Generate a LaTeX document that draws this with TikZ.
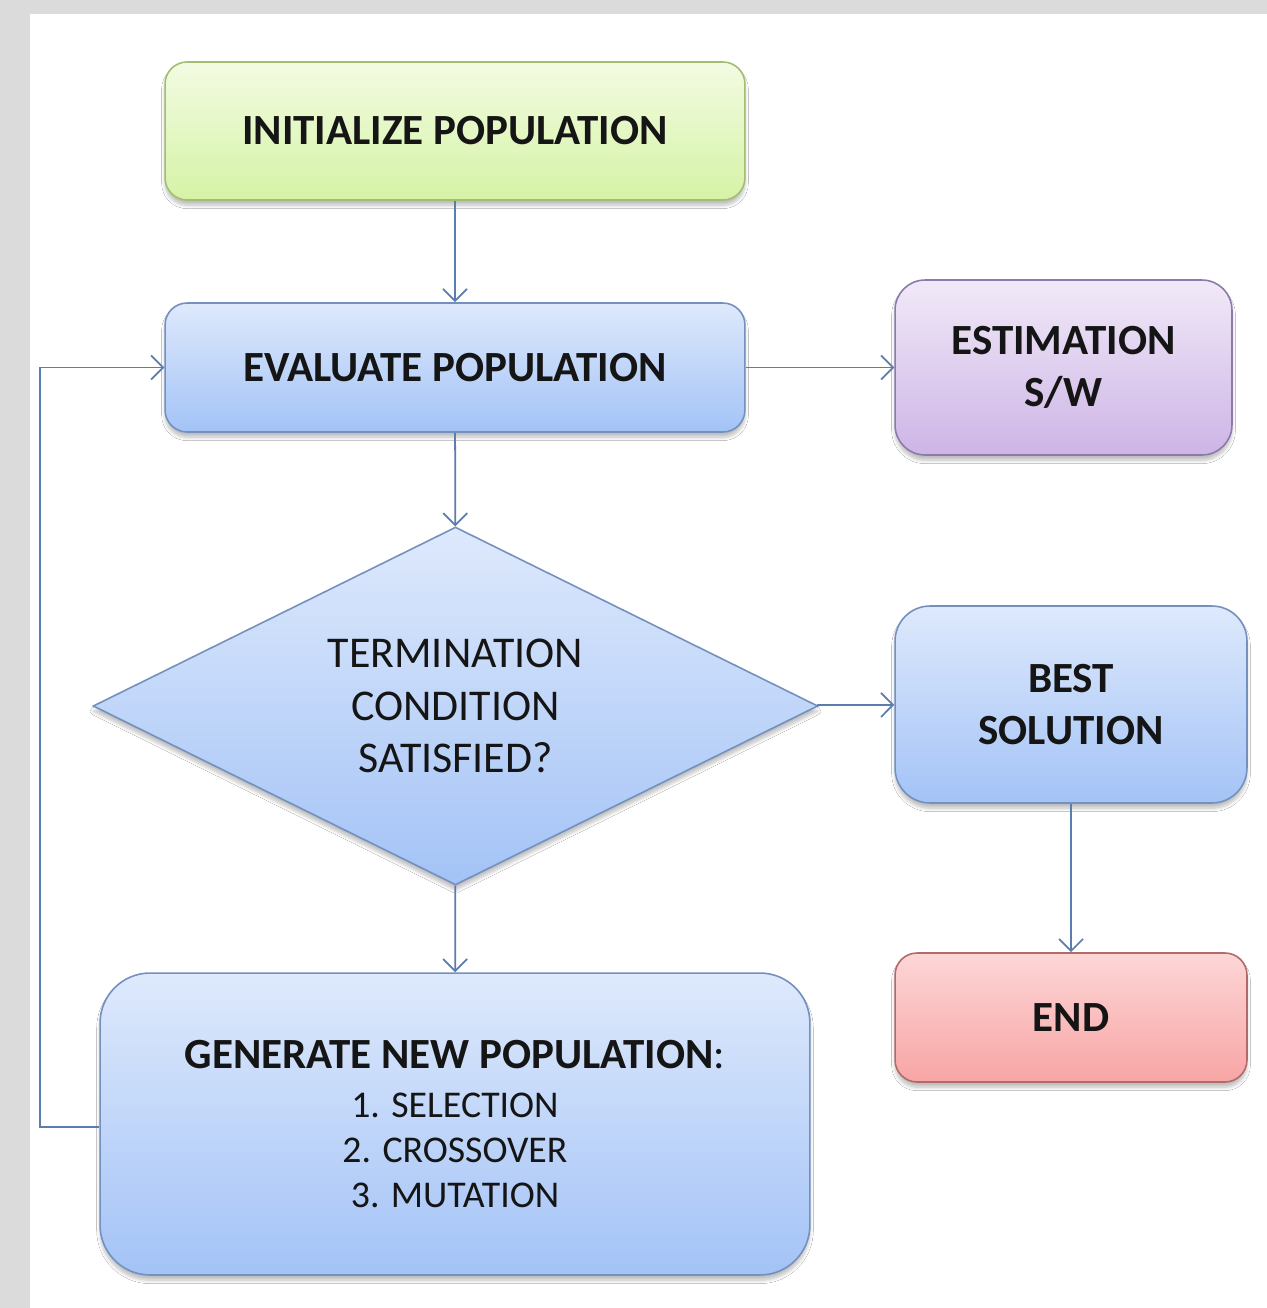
\documentclass[tikz,border=0pt]{standalone}
\usepackage{fontspec}
\setmainfont{Carlito}
\usetikzlibrary{arrows.meta,shapes.geometric,shadows.blur}
\definecolor{lineblue}{HTML}{5A7DAE}
\definecolor{gtop}{HTML}{F3FBE2}
\definecolor{gbot}{HTML}{D5F3A6}
\definecolor{gbord}{HTML}{A3BD73}
\definecolor{btop}{HTML}{DEE9FC}
\definecolor{bbot}{HTML}{A3C3F6}
\definecolor{bbord}{HTML}{7390BE}
\definecolor{ptop}{HTML}{F1E9F8}
\definecolor{pbot}{HTML}{CDB5E6}
\definecolor{pbord}{HTML}{8C7BA8}
\definecolor{rtop}{HTML}{FDD6D6}
\definecolor{rbot}{HTML}{F8A5A5}
\definecolor{rbord}{HTML}{B06A6A}
\definecolor{txt}{HTML}{151515}
\newcommand{\itemfont}{\mdseries\fontsize{21.5}{25.5}\selectfont}
\begin{document}
\begin{tikzpicture}[x=0.02cm,y=-0.02cm,
  boxbase/.style={rectangle, draw, line width=0.9pt, align=center, text=txt,
    font=\fontsize{24.5}{29.5}\selectfont\bfseries,
    blur shadow={shadow xshift=0pt, shadow yshift=-3pt, shadow blur steps=6, shadow opacity=25}},
  greenbox/.style={boxbase, draw=gbord, top color=gtop, bottom color=gbot},
  bluebox/.style={boxbase, draw=bbord, top color=btop, bottom color=bbot},
  purplebox/.style={boxbase, draw=pbord, top color=ptop, bottom color=pbot},
  redbox/.style={boxbase, draw=rbord, top color=rtop, bottom color=rbot},
  decision/.style={diamond, draw=bbord, line width=0.9pt, top color=btop, bottom color=bbot,
    inner sep=0pt, shape aspect=2.025,
    blur shadow={shadow xshift=0pt, shadow yshift=-3pt, shadow blur steps=6, shadow opacity=25}},
  decisiontext/.style={align=center, text=txt, inner sep=0pt, font=\fontsize{25}{30}\selectfont},
  arr/.style={draw=lineblue, line width=1pt, -{Straight Barb[length=2.4mm,width=4.8mm]}}
]
\useasboundingbox (0,0) rectangle (1267,1308);
\fill[gray!28] (0,0) rectangle (1267,1308);
\fill[white] (30,14) rectangle (1267,1308);

\node[greenbox, minimum width=11.6cm, minimum height=2.76cm, rounded corners=0.44cm] (init) at (455,131) {INITIALIZE POPULATION};
\node[bluebox, minimum width=11.6cm, minimum height=2.58cm, rounded corners=0.44cm] (eval) at (455,367.5) {EVALUATE POPULATION};
\node[purplebox, minimum width=6.74cm, minimum height=3.5cm, rounded corners=0.6cm] (est) at (1063.5,367.5) {ESTIMATION\\S/W};
\node[decision, minimum width=14.5cm, minimum height=7.16cm] (cond) at (455.5,706) {};
\node[decisiontext] (condtext) at (cond.center) {TERMINATION\\CONDITION\\SATISFIED?};
\node[bluebox, minimum width=7.04cm, minimum height=3.94cm, rounded corners=0.7cm] (best) at (1071,704.5) {BEST\\SOLUTION};
\node[redbox, minimum width=7.04cm, minimum height=2.58cm, rounded corners=0.44cm] (end) at (1071,1017.5) {END};
\node[bluebox, minimum width=14.2cm, minimum height=6.04cm, rounded corners=1cm] (gen) at (455,1124)
  {GENERATE NEW POPULATION\mdseries:\\[-1.8pt]
   \itemfont 1. SELECTION\\[-4pt] \itemfont 2. CROSSOVER\\[-4pt] \itemfont 3. MUTATION};

\draw[arr] (init) -- (eval);
\draw[arr] (eval) -- (cond);
\draw[arr] (cond) -- (gen);
\draw[arr] (eval) -- (est);
\draw[arr] (cond) -- (best);
\draw[arr] (best) -- (end);
\coordinate (loopc) at (40,1127);
\draw[arr] (gen.west |- loopc) -- (loopc) |- (eval.west);
\end{tikzpicture}
\end{document}
